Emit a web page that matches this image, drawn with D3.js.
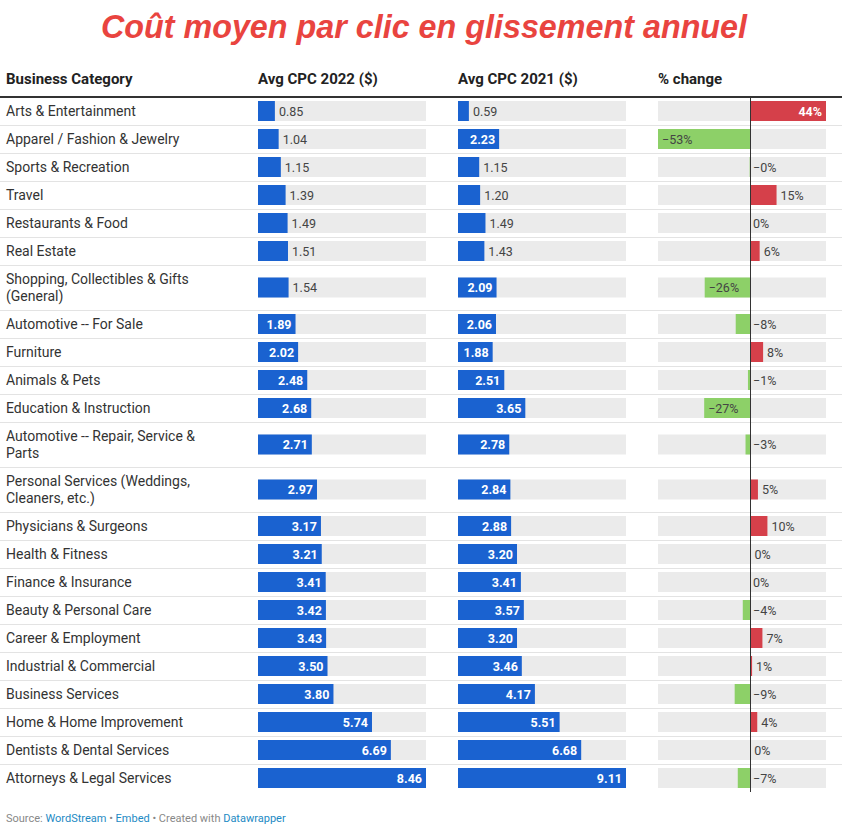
<!DOCTYPE html>
<html>
<head>
<meta charset="utf-8">
<script src="https://cdn.jsdelivr.net/npm/d3@7"></script>
<style>
  html, body { margin: 0; padding: 0; background: #fff; }
  svg { display: block; }
</style>
</head>
<body>
<svg id="chart" width="845" height="834"></svg>
<script>
const categories = [
  "Arts & Entertainment",
  "Apparel / Fashion & Jewelry",
  "Sports & Recreation",
  "Travel",
  "Restaurants & Food",
  "Real Estate",
  "Shopping, Collectibles & Gifts (General)",
  "Automotive -- For Sale",
  "Furniture",
  "Animals & Pets",
  "Education & Instruction",
  "Automotive -- Repair, Service & Parts",
  "Personal Services (Weddings, Cleaners, etc.)",
  "Physicians & Surgeons",
  "Health & Fitness",
  "Finance & Insurance",
  "Beauty & Personal Care",
  "Career & Employment",
  "Industrial & Commercial",
  "Business Services",
  "Home & Home Improvement",
  "Dentists & Dental Services",
  "Attorneys & Legal Services"
];
const cpc2022 = [0.85, 1.04, 1.15, 1.39, 1.49, 1.51, 1.54, 1.89, 2.02, 2.48, 2.68, 2.71, 2.97, 3.17, 3.21, 3.41, 3.42, 3.43, 3.50, 3.80, 5.74, 6.69, 8.46];
const cpc2021 = [0.59, 2.23, 1.15, 1.20, 1.49, 1.43, 2.09, 2.06, 1.88, 2.51, 3.65, 2.78, 2.84, 2.88, 3.20, 3.41, 3.57, 3.20, 3.46, 4.17, 5.51, 6.68, 9.11];
const pctChange = [44.1, -53.4, -0.2, 15.4, 0.0, 5.6, -26.3, -8.3, 7.6, -1.2, -26.6, -2.6, 4.6, 10.1, 0.3, 0.0, -4.2, 7.2, 1.2, -8.9, 4.2, 0.1, -7.1];
const headers = ["Business Category", "Avg CPC 2022 ($)", "Avg CPC 2021 ($)", "% change"];
const titleText = "Coût moyen par clic en glissement annuel";

const svg = d3.select("#chart");
const FONT = "Roboto, 'Noto Sans', sans-serif";
const BLUE = "#1a62d0", RED = "#d5404a", GREEN = "#8dd068", BG = "#ebebeb";

// Title
svg.append("text")
  .attr("x", 424).attr("y", 38)
  .attr("text-anchor", "middle")
  .attr("font-family", "'Liberation Sans', Arial, sans-serif")
  .attr("font-weight", "bold").attr("font-style", "italic")
  .attr("font-size", 32.3).attr("fill", "#e9443f")
  .text(titleText);

// Column positions
const colX = [6, 258, 458, 658];
const barW = 168;
svg.selectAll("text.hdr").data(headers).join("text")
  .attr("class", "hdr")
  .attr("x", (d, i) => colX[i]).attr("y", 84)
  .attr("font-family", FONT).attr("font-weight", "bold")
  .attr("font-size", 15).attr("fill", "#222")
  .text(d => d);

const headerY = 97;

// Wrap labels to determine row heights
const measure = svg.append("text").attr("font-family", FONT).attr("font-size", 14);
function wrap(str, maxW) {
  const words = str.split(" ");
  const lines = [];
  let cur = "";
  for (const w of words) {
    const test = cur ? cur + " " + w : w;
    measure.text(test);
    if (measure.node().getComputedTextLength() > maxW && cur) {
      lines.push(cur); cur = w;
    } else cur = test;
  }
  lines.push(cur);
  return lines;
}
const labelLines = categories.map(c => wrap(c, 200));
measure.remove();

const rowH = labelLines.map(l => l.length > 1 ? 45 : 28);
const rowTop = [];
let acc = headerY;
rowH.forEach((h, i) => { rowTop.push(acc); acc += h; });
const bottomY = acc;

const rows = categories.map((c, i) => ({
  cat: c, lines: labelLines[i], top: rowTop[i], h: rowH[i], mid: rowTop[i] + rowH[i] / 2,
  v22: cpc2022[i], v21: cpc2021[i], pct: pctChange[i]
}));

// Row separators
svg.selectAll("line.sep").data(rows.slice(0, -1)).join("line")
  .attr("x1", 0).attr("x2", 842)
  .attr("y1", d => d.top + d.h + 0.5).attr("y2", d => d.top + d.h + 0.5)
  .attr("stroke", "#e3e3e3").attr("stroke-width", 1);

// Header line
svg.append("line").attr("x1", 0).attr("x2", 842)
  .attr("y1", headerY).attr("y2", headerY)
  .attr("stroke", "#333").attr("stroke-width", 2);

// Category labels
const lab = svg.selectAll("text.cat").data(rows).join("text")
  .attr("class", "cat")
  .attr("font-family", FONT).attr("font-size", 14).attr("fill", "#333");
lab.each(function(d) {
  const t = d3.select(this);
  const n = d.lines.length;
  d.lines.forEach((ln, k) => {
    t.append("tspan").attr("x", colX[0])
      .attr("y", d.mid + 5 + (k - (n - 1) / 2) * 17)
      .text(ln);
  });
});

const BAR_H = 20;
const fmt2 = d3.format(".2f");
const tmp = svg.append("text").attr("font-family", FONT).attr("font-size", 12.5);
function textW(s, bold) {
  tmp.attr("font-weight", bold ? "bold" : "normal").text(s);
  return tmp.node().getComputedTextLength();
}

function drawBarColumn(x0, key, maxV) {
  const x = d3.scaleLinear().domain([0, maxV]).range([x0, x0 + barW]);
  const g = svg.append("g");
  g.selectAll("rect.bg").data(rows).join("rect")
    .attr("x", x0).attr("width", barW)
    .attr("y", d => d.mid - BAR_H / 2).attr("height", BAR_H)
    .attr("fill", BG);
  g.selectAll("rect.bar").data(rows).join("rect")
    .attr("x", x0).attr("width", d => x(d[key]) - x0)
    .attr("y", d => d.mid - BAR_H / 2).attr("height", BAR_H)
    .attr("fill", BLUE);
  g.selectAll("text.val").data(rows).join("text")
    .each(function(d) {
      const s = fmt2(d[key]);
      const w = x(d[key]) - x0;
      const inside = textW(s, true) + 8 < w;
      d3.select(this)
        .attr("x", inside ? x(d[key]) - 4 : x(d[key]) + 4)
        .attr("y", d.mid + 4.5)
        .attr("text-anchor", inside ? "end" : "start")
        .attr("font-family", FONT).attr("font-size", 12.5)
        .attr("font-weight", inside ? "bold" : "normal")
        .attr("fill", inside ? "#fff" : "#444")
        .text(s);
    });
}
drawBarColumn(colX[1], "v22", d3.max(cpc2022));
drawBarColumn(colX[2], "v21", d3.max(cpc2021));

// % change column
const xp = d3.scaleLinear().domain([d3.min(pctChange), d3.max(pctChange)]).range([colX[3], colX[3] + barW]);
const gp = svg.append("g");
gp.selectAll("rect.bg").data(rows).join("rect")
  .attr("x", colX[3]).attr("width", barW)
  .attr("y", d => d.mid - BAR_H / 2).attr("height", BAR_H)
  .attr("fill", BG);
gp.selectAll("rect.bar").data(rows).join("rect")
  .attr("x", d => Math.min(xp(0), xp(d.pct)))
  .attr("width", d => Math.abs(xp(d.pct) - xp(0)))
  .attr("y", d => d.mid - BAR_H / 2).attr("height", BAR_H)
  .attr("fill", d => d.pct >= 0 ? RED : GREEN);
const pctLabel = v => (v < 0 || Object.is(v, -0) ? "\u2212" : "") + Math.abs(Math.round(v)) + "%";
gp.selectAll("text.val").data(rows).join("text")
  .each(function(d) {
    const s = pctLabel(d.pct);
    const w = Math.abs(xp(d.pct) - xp(0));
    const t = d3.select(this).attr("y", d.mid + 4.5)
      .attr("font-family", FONT).attr("font-size", 12.5);
    if (d.pct > 0 && textW(s, true) + 8 < w) {
      t.attr("x", xp(d.pct) - 4).attr("text-anchor", "end")
        .attr("font-weight", "bold").attr("fill", "#fff");
    } else if (d.pct > 0) {
      t.attr("x", xp(d.pct) + 4).attr("text-anchor", "start").attr("fill", "#444");
    } else if (textW(s, false) + 8 < w) {
      t.attr("x", xp(d.pct) + 4).attr("text-anchor", "start").attr("fill", "#444");
    } else {
      t.attr("x", xp(0) + 3).attr("text-anchor", "start").attr("fill", "#444");
    }
    t.text(s);
  });
tmp.remove();

// zero line
svg.append("line")
  .attr("x1", Math.round(xp(0)) + 0.5).attr("x2", Math.round(xp(0)) + 0.5)
  .attr("y1", headerY).attr("y2", bottomY)
  .attr("stroke", "#333").attr("stroke-width", 1);

// Footer
const foot = svg.append("text").attr("x", 6).attr("y", 822)
  .attr("font-family", FONT).attr("font-size", 11).attr("fill", "#888");
const footParts = [
  ["Source: ", "#888"], ["WordStream", "#1d8ac4"], [" \u2022 ", "#888"],
  ["Embed", "#1d8ac4"], [" \u2022 Created with ", "#888"], ["Datawrapper", "#1d8ac4"]
];
footParts.forEach(([s, c]) => foot.append("tspan").attr("fill", c).text(s));
</script>
</body>
</html>
